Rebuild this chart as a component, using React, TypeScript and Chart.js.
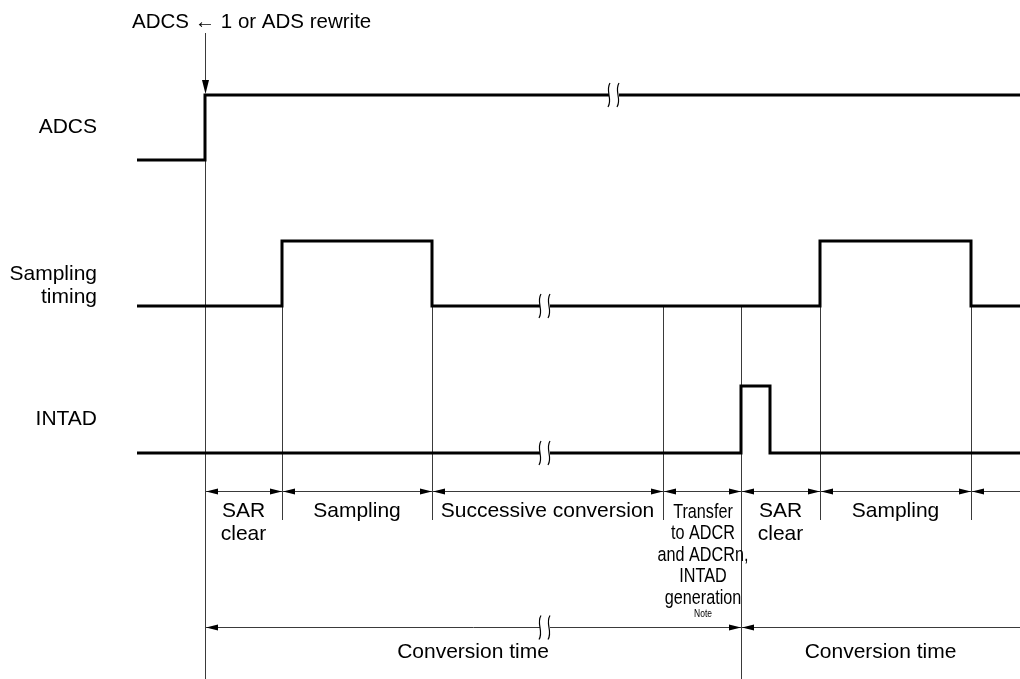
import React, { useEffect, useRef } from "react";
import { Chart, registerables } from "chart.js";

Chart.register(...registerables);

// ---- data ----
const signalNames = [["ADCS"], ["Sampling", "timing"], ["INTAD"]];
const adcsTimes = [137, 205, 1020];
const adcsLevels = [0, 1, 1];
const samplingTimes = [137, 282, 432, 820, 971, 1020];
const samplingLevels = [0, 1, 0, 1, 0, 0];
const intadTimes = [137, 741, 770, 1020];
const intadLevels = [0, 1, 0, 0];
const signalBreaks = [614, 545, 545];
const phaseBounds = [205, 282, 432, 663, 741, 820, 971, 1020];
const phaseLabels = [
  ["SAR", "clear"],
  ["Sampling"],
  ["Successive conversion"],
  ["Transfer", "to ADCR", "and ADCRn,", "INTAD", "generation"],
  ["SAR", "clear"],
  ["Sampling"],
  [],
];
const conversionBounds = [205, 741, 1020];
const conversionLabels = ["Conversion time", "Conversion time"];
const conversionBreak = 545;
const triggerTime = 205;
const triggerLabel = "ADCS \u2190 1 or ADS rewrite";
const noteLabel = "Note";

// ---- layout ----
const rowLow = [160, 306, 453];
const rowHigh = [95, 241, 386];
const phaseArrowY = 491;
const convArrowY = 627;
const FONT = "'Liberation Sans', Arial, Helvetica, sans-serif";

function App() {
  const ref = useRef<HTMLCanvasElement | null>(null);
  useEffect(() => {
    const canvas = ref.current!;
    const sigs = [
      [adcsTimes, adcsLevels],
      [samplingTimes, samplingLevels],
      [intadTimes, intadLevels],
    ];
    const datasets = sigs.map(([ts, ls], i) => ({
      label: signalNames[i].join(" "),
      data: ts.map((t, k) => ({ x: t, y: rowLow[i] - ls[k] * (rowLow[i] - rowHigh[i]) })),
      stepped: true as const,
      borderColor: "#000",
      borderWidth: 3,
      pointRadius: 0,
      fill: false,
      borderJoinStyle: "miter" as const,
    }));

    const plugin = {
      id: "timing",
      beforeDatasetsDraw(chart: any) {
        const ctx = chart.ctx as CanvasRenderingContext2D;
        const xs = chart.scales.x;
        const ys = chart.scales.y;
        ctx.save();
        ctx.strokeStyle = "#3a3a3a";
        ctx.lineWidth = 1;
        phaseBounds.slice(0, -1).forEach((t) => {
          const x = Math.round(xs.getPixelForValue(t)) + 0.5;
          const top = t === triggerTime ? ys.getPixelForValue(rowHigh[0]) : ys.getPixelForValue(rowLow[1]);
          const full = conversionBounds.includes(t);
          const bottom = full ? chart.height : ys.getPixelForValue(520);
          ctx.beginPath();
          ctx.moveTo(x, top);
          ctx.lineTo(x, bottom);
          ctx.stroke();
        });
        ctx.restore();
      },
      afterDatasetsDraw(chart: any) {
        const ctx = chart.ctx as CanvasRenderingContext2D;
        const xs = chart.scales.x;
        const ys = chart.scales.y;
        const X = (v: number) => xs.getPixelForValue(v);
        const Y = (v: number) => ys.getPixelForValue(v);

        const text = (s: string, x: number, y: number, size: number, align: CanvasTextAlign, sx = 1) => {
          ctx.save();
          ctx.font = `${size}px ${FONT}`;
          ctx.fillStyle = "#000";
          ctx.textAlign = align;
          ctx.textBaseline = "middle";
          ctx.translate(x, y);
          ctx.scale(sx, 1);
          ctx.fillText(s, 0, 0);
          ctx.restore();
        };
        const head = (x: number, y: number, dir: number) => {
          // dir: -1 points left, 1 points right, 2 points down
          ctx.beginPath();
          if (dir === 2) {
            ctx.moveTo(x, y);
            ctx.lineTo(x - 3.5, y - 14);
            ctx.lineTo(x + 3.5, y - 14);
          } else {
            ctx.moveTo(x, y);
            ctx.lineTo(x - dir * 12, y - 3);
            ctx.lineTo(x - dir * 12, y + 3);
          }
          ctx.closePath();
          ctx.fill();
        };
        const brk = (x: number, y: number, h: number) => {
          ctx.save();
          ctx.fillStyle = "#fff";
          ctx.fillRect(x - 5, y - 3, 10, 6);
          ctx.strokeStyle = "#000";
          ctx.lineWidth = 1.2;
          [x - 5, x + 4].forEach((cx) => {
            ctx.beginPath();
            ctx.moveTo(cx + 1, y - h);
            ctx.bezierCurveTo(cx - 4, y - h / 3, cx + 4, y + h / 3, cx - 1, y + h);
            ctx.stroke();
          });
          ctx.restore();
        };

        ctx.save();
        ctx.fillStyle = "#000";
        ctx.strokeStyle = "#3a3a3a";
        ctx.lineWidth = 1;

        // breaks on signals
        signalBreaks.forEach((t, i) => brk(X(t), Y(i === 0 ? rowHigh[0] : rowLow[i]), 12));

        // trigger arrow
        const tx = Math.round(X(triggerTime)) + 0.5;
        ctx.beginPath();
        ctx.moveTo(tx, 33);
        ctx.lineTo(tx, Y(rowHigh[0]) - 4);
        ctx.stroke();
        head(tx, Y(rowHigh[0]) - 1, 2);
        text(triggerLabel, X(132), 22, 20.5, "left");

        // phase arrows
        const py = Math.round(Y(phaseArrowY)) + 0.5;
        for (let i = 0; i < phaseBounds.length - 1; i++) {
          const a = X(phaseBounds[i]) + 1;
          const b = X(phaseBounds[i + 1]);
          ctx.beginPath();
          ctx.moveTo(a, py);
          ctx.lineTo(b, py);
          ctx.stroke();
          head(a, py, -1);
          if (i < phaseBounds.length - 2) head(b, py, 1);
          const lines = phaseLabels[i];
          const cx = (X(phaseBounds[i]) + X(phaseBounds[i + 1])) / 2;
          if (lines.length > 2) {
            lines.forEach((s, k) => text(s, cx + 1, Y(512 + k * 21.5), 20.5, "center", 0.79));
            text(noteLabel, cx + 1, Y(614), 10, "center", 0.85);
          } else {
            lines.forEach((s, k) => text(s, cx, Y(511 + k * 23), 21, "center"));
          }
        }

        // conversion arrows
        const cy = Math.round(Y(convArrowY)) + 0.5;
        for (let i = 0; i < conversionBounds.length - 1; i++) {
          const a = X(conversionBounds[i]) + 1;
          const b = X(conversionBounds[i + 1]);
          ctx.beginPath();
          ctx.moveTo(a, cy);
          ctx.lineTo(b, cy);
          ctx.stroke();
          head(a, cy, -1);
          if (i < conversionBounds.length - 2) head(b, cy, 1);
          text(conversionLabels[i], (X(conversionBounds[i]) + b) / 2, Y(652), 21, "center");
        }
        brk(X(conversionBreak), cy, 12);

        // signal names
        const nameY = [[127], [274, 297], [419]];
        signalNames.forEach((lines, i) =>
          lines.forEach((s, k) => text(s, X(97), Y(nameY[i][k]), 21, "right"))
        );
        ctx.restore();
      },
    };

    const chart = new Chart(canvas, {
      type: "line",
      data: { datasets },
      options: {
        animation: false,
        responsive: false,
        parsing: false,
        layout: { padding: 0 },
        plugins: { legend: { display: false }, tooltip: { enabled: false } },
        scales: {
          x: { type: "linear", min: 0, max: 1020, display: false },
          y: { type: "linear", min: 0, max: 679, reverse: true, display: false },
        },
      },
      plugins: [plugin],
    });
    return () => chart.destroy();
  }, []);

  return (
    <div style={{ position: "fixed", left: 0, top: 0, width: 1020, height: 679, background: "#fff" }}>
      <canvas ref={ref} width={1020} height={679} style={{ display: "block" }} />
    </div>
  );
}

export default App;
